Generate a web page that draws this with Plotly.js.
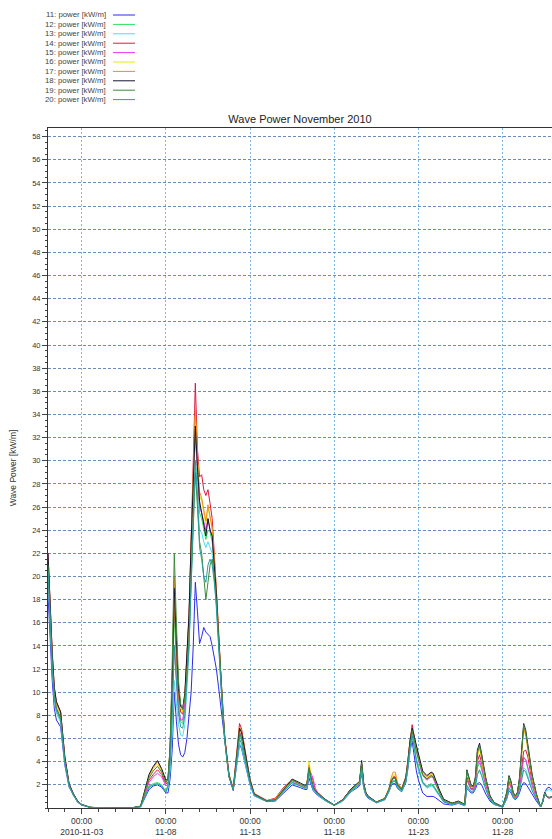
<!DOCTYPE html>
<html>
<head>
<meta charset="utf-8">
<script src="https://cdn.plot.ly/plotly-3.0.1.min.js"></script>
<style>html,body{margin:0;padding:0;background:#fff;}#chart{width:552px;height:839px;}</style>
</head>
<body>
<div id="chart"></div>
<script>
// Time stamps: hours after 2010-11-01 00:00
const hoursFromStart = [
0,3,6,9,12,18,24,30,36,42,48,60,72,96,120,
132,138,144,150,156,162,168,
171,174,177,180,183,186,189,192,195,
198,201,204,207,210,213,216,219,222,225,228,231,234,237,240,243,246,249,252,255,258,264,
270,273,276,279,282,288,294,300,
312,324,336,348,360,366,
369,372,375,378,381,384,396,408,420,432,444,447,450,453,456,468,480,486,
489,492,495,498,504,510,513,516,519,522,525,528,534,540,546,549,552,558,564,576,585,594,
597,600,603,606,609,612,615,618,621,624,630,636,648,654,
657,660,663,666,669,672,675,678,681,684,687,690,696,702,705,708,711,714,720
];

const power11 = [
18.5,14,11,8.6,7.6,7.0,3.7,1.8,1.1,0.5,0.25,0.05,0.02,0.01,0.02,
0.1,0.9,1.6,1.9,2.0,1.8,1.3,
1.3,2.5,5,10,7.5,5.5,4.6,4.4,4.8,
6,8,10,14,19.5,17,14.2,14.8,15.6,15.2,15,14.8,14,13,12,10.5,9,7.5,5.5,4,2.7,1.5,
4.3,5.5,5.1,4.3,3.5,2.0,1.05,0.9,
0.55,0.6,1.3,2.0,1.75,1.6,
1.6,2.6,2.0,1.5,1.3,1.1,0.6,0.22,0.6,1.4,1.9,3.0,1.7,1.1,0.85,0.45,0.7,1.4,
1.9,2.1,2.1,1.7,1.4,2.2,3.4,4.9,5.8,4.4,3.2,2.4,1.3,1.0,1.0,1.0,0.9,0.6,0.35,0.25,0.4,0.2,
1.7,1.5,1.3,1.3,1.6,2.1,2.2,2.0,1.6,1.2,0.6,0.3,0.08,0.8,
1.5,1.3,0.9,0.7,0.9,1.3,1.9,2.2,2.1,1.8,1.5,1.1,0.6,0.1,0.6,1.3,1.7,1.8,1.5
];
const power12 = [
21,16,12.6,9.8,8.6,7.8,4.1,2.0,1.2,0.6,0.3,0.06,0.02,0.01,0.02,
0.12,1.0,1.9,2.1,2.2,2.0,1.4,
2.0,4.2,9,17,12.5,9,7.5,7.3,8.6,
12,15.5,21,27.5,32.5,29,25.5,25,24.2,23.2,24,23.8,23,20.5,18,14.6,11.2,8.3,5.9,4.1,2.8,1.6,
5.0,6.3,5.9,4.9,4.0,2.2,1.1,0.95,
0.6,0.68,1.5,2.25,1.9,1.7,
1.85,3.2,2.3,1.7,1.4,1.2,0.65,0.24,0.65,1.5,2.05,3.5,1.85,1.2,0.95,0.48,0.75,1.5,
2.1,2.4,2.4,1.85,1.5,2.4,3.7,5.4,6.5,5.4,4.3,3.6,2.3,1.9,2.1,2.0,1.7,1.05,0.55,0.32,0.48,0.25,
2.4,2.0,1.6,1.55,2.0,3.5,3.9,3.3,2.5,1.9,0.8,0.38,0.09,1.0,
2.1,1.8,1.1,0.85,1.1,1.9,3.2,4.4,4.1,3.4,2.6,1.9,0.9,0.1,0.5,1.2,0.95,0.85,0.95
];
const power13 = [
20,15.5,12,9.3,8.2,7.4,3.9,1.9,1.1,0.55,0.28,0.05,0.02,0.01,0.02,
0.1,0.95,1.8,2.0,2.1,1.9,1.4,
1.7,3.2,6.5,11,9,7.2,6.3,6.2,7.2,
10.5,13.5,19,25,30,27,24,23.8,23,22.5,23,22.5,22,20,17.5,14.2,11,8.2,5.8,4.1,2.7,1.6,
4.4,5.6,5.2,4.4,3.6,2.0,1.05,0.9,
0.55,0.65,1.4,2.15,1.85,1.65,
1.75,3.0,2.2,1.6,1.35,1.15,0.62,0.23,0.62,1.45,2.0,3.3,1.8,1.15,0.9,0.46,0.72,1.45,
2.0,2.3,2.3,1.8,1.45,2.3,3.6,5.2,6.3,5.1,4.0,3.3,2.1,1.7,1.9,1.8,1.55,0.95,0.5,0.3,0.45,0.24,
2.0,1.7,1.45,1.4,1.8,2.9,3.2,2.8,2.1,1.6,0.7,0.33,0.08,0.9,
1.8,1.5,1.0,0.8,1.0,1.6,2.6,3.5,3.3,2.8,2.2,1.6,0.8,0.1,0.6,1.4,1.5,1.6,1.4
];
const power14 = [
22,17,13.5,10.4,9.1,8.3,4.4,2.1,1.25,0.62,0.31,0.06,0.02,0.01,0.02,
0.15,1.3,2.4,2.9,3.3,2.9,2.1,
2.2,4.6,10,18,13.5,9.8,8.3,8.1,9.4,
12.8,16.5,23,30,36.7,31,28.6,28.8,27.5,27,27.5,26.3,25,22,19.2,15.5,11.8,8.7,6.1,4.3,2.9,1.7,
5.7,7.3,6.8,5.6,4.6,2.5,1.25,1.05,
0.65,0.85,1.8,2.4,2.0,1.8,
2.0,3.4,2.9,2.2,1.6,1.35,0.72,0.26,0.72,1.65,2.2,3.8,2.1,1.35,1.0,0.5,0.82,1.65,
2.3,2.7,2.7,2.1,1.65,2.7,4.2,6.1,7.2,6.2,5.1,4.4,2.9,2.5,2.8,2.7,2.2,1.35,0.68,0.4,0.55,0.3,
2.7,2.2,1.7,1.65,2.2,4.0,4.6,3.9,2.9,2.2,0.9,0.4,0.09,1.1,
2.3,1.9,1.15,0.9,1.15,2.0,3.5,4.9,5.0,4.4,3.3,2.3,1.0,0.1,0.5,1.25,1.0,0.9,1.0
];
const power15 = [
21,16.2,12.8,9.8,8.6,7.8,4.1,2.0,1.15,0.58,0.29,0.06,0.02,0.01,0.02,
0.13,1.2,2.2,2.7,3.0,2.7,1.9,
2.1,4.2,9,14,11,8.5,7.6,7.6,9,
12.5,16,22,28.5,32.5,29,26,25.5,24.7,24,25,24,23.5,21,18.5,15,11.5,8.5,6,4.2,2.8,1.6,
5.2,6.6,6.2,5.1,4.2,2.3,1.15,0.95,
0.6,0.75,1.65,2.35,1.95,1.75,
1.95,3.3,3.0,2.5,1.7,1.35,0.7,0.25,0.7,1.6,2.15,3.7,2.05,1.3,1.0,0.5,0.8,1.6,
2.2,2.6,2.6,2.0,1.6,2.6,4.0,5.8,6.8,5.8,4.8,4.1,2.8,2.4,2.7,2.6,2.1,1.3,0.65,0.38,0.53,0.29,
2.5,2.0,1.6,1.55,2.1,3.7,4.1,3.5,2.6,2.0,0.85,0.38,0.09,1.05,
2.2,1.8,1.1,0.85,1.1,1.9,3.1,4.3,4.2,3.6,2.8,2.0,0.9,0.1,0.5,1.2,0.95,0.85,0.95
];
const power16 = [
21.5,16.5,13,10,8.8,8.0,4.2,2.0,1.2,0.6,0.3,0.06,0.02,0.01,0.02,
0.15,1.45,2.7,3.4,3.8,3.2,2.2,
2.3,4.9,11,19,14.5,10.2,8.6,8.4,9.7,
12.7,16.2,22.5,29,33.8,30,27,26.5,25.5,24.5,26,25,24,21.3,18.7,15.2,11.6,8.6,6,4.2,2.8,1.6,
5.4,6.9,6.4,5.3,4.3,2.4,1.2,1.0,
0.6,0.75,1.7,2.4,2.0,1.8,
2.1,4.0,2.7,1.9,1.5,1.3,0.7,0.25,0.7,1.6,2.2,3.8,2.0,1.3,1.0,0.5,0.82,1.65,
2.4,2.8,2.9,2.1,1.65,2.6,4.0,5.8,6.8,6.0,5.0,4.4,3.0,2.6,2.9,2.8,2.3,1.4,0.7,0.4,0.55,0.3,
3.0,2.4,1.85,1.75,2.4,4.5,5.1,4.3,3.1,2.4,0.95,0.43,0.1,1.25,
2.6,2.1,1.25,0.95,1.25,2.4,4.5,6.8,6.2,5.0,3.8,2.6,1.1,0.1,0.5,1.3,1.0,0.9,1.0
];
const power17 = [
21.8,16.8,13.3,10.2,9.0,8.2,4.3,2.05,1.22,0.61,0.3,0.06,0.02,0.01,0.02,
0.15,1.5,2.8,3.5,4.0,3.3,2.3,
2.4,5,11.5,20,15,10.5,8.8,8.5,9.8,
12.9,16.5,23,29.5,34.5,30.5,27.3,26.8,25.7,24.8,26.2,25.2,24.2,21.5,18.9,15.3,11.7,8.6,6.1,4.3,2.9,1.6,
5.5,7.0,6.5,5.4,4.4,2.4,1.2,1.0,
0.62,0.8,1.75,2.45,2.05,1.85,
2.1,3.7,2.7,1.9,1.55,1.32,0.72,0.26,0.72,1.62,2.22,3.85,2.05,1.32,1.0,0.5,0.85,1.7,
2.6,3.1,3.1,2.2,1.7,2.7,4.1,5.9,6.9,6.1,5.1,4.5,3.1,2.7,3.0,2.9,2.4,1.45,0.72,0.41,0.57,0.31,
3.1,2.5,1.9,1.8,2.5,4.7,5.3,4.4,3.2,2.45,1.0,0.45,0.1,1.3,
2.6,2.1,1.25,0.95,1.25,2.4,4.6,7.0,6.3,5.1,3.9,2.7,1.15,0.1,0.5,1.3,1.0,0.9,1.0
];
const power18 = [
22,17,13.4,10.4,9.2,8.3,4.4,2.1,1.25,0.62,0.3,0.06,0.02,0.01,0.02,
0.16,1.55,2.9,3.6,4.1,3.4,2.4,
2.5,5.2,11,19,14.5,10.3,8.8,8.6,9.9,
13,16.8,23,29,33,29.5,26.5,25.5,24.5,23.5,25,24,23.5,21,18.5,15,11.5,8.5,6,4.2,2.8,1.6,
5.5,6.9,6.5,5.4,4.4,2.4,1.2,1.0,
0.6,0.7,1.6,2.5,2.15,1.95,
2.05,3.4,2.5,1.8,1.5,1.3,0.7,0.25,0.7,1.65,2.3,4.1,2.1,1.35,1.05,0.52,0.8,1.6,
2.3,2.6,2.6,2.0,1.6,2.6,4.0,5.8,6.9,6.2,5.3,4.7,3.2,2.8,3.1,3.0,2.5,1.55,0.75,0.42,0.6,0.32,
3.3,2.6,2.0,1.9,2.6,5.0,5.6,4.7,3.5,2.6,1.05,0.47,0.1,1.4,
2.8,2.3,1.35,1.05,1.35,2.6,5.0,7.3,6.7,5.5,4.1,2.9,1.25,0.1,0.5,1.35,1.0,0.9,1.0
];
const power19 = [
21,16.2,12.7,9.8,8.6,7.8,4.1,2.0,1.18,0.59,0.3,0.06,0.02,0.01,0.02,
0.15,1.4,2.6,3.2,3.6,3.1,2.2,
2.5,5.3,12.5,22,16,11,9,8.5,9.5,
11.5,14.5,19.5,25,29,26,23,22,20,18,19.5,21,21.5,20,17.8,14.6,11.2,8.3,5.9,4.1,2.7,1.6,
5.1,6.5,6.0,5.0,4.1,2.25,1.15,0.95,
0.6,0.7,1.55,2.4,2.05,1.85,
2.0,3.5,2.5,1.75,1.45,1.28,0.68,0.25,0.68,1.6,2.25,3.9,2.0,1.3,1.0,0.5,0.8,1.6,
2.3,2.6,2.6,2.0,1.6,2.5,3.9,5.7,6.7,5.9,4.9,4.3,2.9,2.5,2.8,2.7,2.2,1.35,0.68,0.4,0.55,0.3,
3.2,2.5,1.9,1.8,2.5,4.8,5.4,4.5,3.3,2.5,1.0,0.45,0.1,1.35,
2.7,2.2,1.3,1.0,1.3,2.5,4.8,7.2,6.5,5.3,4.0,2.8,1.2,0.1,0.5,1.3,1.0,0.9,1.0
];
const power20 = [
20.5,15.8,12.3,9.5,8.4,7.6,4.0,1.95,1.15,0.57,0.29,0.05,0.02,0.01,0.02,
0.1,0.95,1.8,2.0,2.1,1.9,1.4,
1.9,3.8,8,14,11,8.2,7,6.9,8,
11,14,20,26,30,27,22.5,21.5,20,19.5,21,21.5,21,19.5,17.5,14.3,11,8.2,5.8,4.1,2.7,1.6,
4.7,6.0,5.5,4.6,3.7,2.1,1.1,0.9,
0.55,0.65,1.45,2.2,1.9,1.7,
1.8,3.1,2.3,1.65,1.4,1.2,0.65,0.24,0.65,1.5,2.05,3.4,1.85,1.2,0.95,0.48,0.75,1.5,
2.0,2.3,2.3,1.8,1.45,2.3,3.6,5.3,6.3,5.2,4.1,3.4,2.2,1.8,2.0,1.9,1.6,1.0,0.52,0.31,0.46,0.24,
1.9,1.65,1.4,1.35,1.75,2.9,3.3,2.8,2.1,1.6,0.7,0.33,0.08,0.9,
1.7,1.45,0.95,0.75,0.95,1.5,2.4,3.3,3.1,2.6,2.0,1.5,0.75,0.1,0.55,1.25,1.0,0.9,1.0
];

const seriesNames = ['11: power [kW/m]','12: power [kW/m]','13: power [kW/m]','14: power [kW/m]','15: power [kW/m]',
                     '16: power [kW/m]','17: power [kW/m]','18: power [kW/m]','19: power [kW/m]','20: power [kW/m]'];
const seriesValues = [power11,power12,power13,power14,power15,power16,power17,power18,power19,power20];
const seriesColors = ['#2a2aee','#2ee05a','#4cdcf0','#e0163c','#f032f0','#e8e800','#f08c1e','#141430','#3c8c3c','#2a9e9e'];

const xTickVals = ['2010-11-03 00:00','2010-11-08 00:00','2010-11-13 00:00','2010-11-18 00:00','2010-11-23 00:00','2010-11-28 00:00'];
const xTickText = ['00:00<br>2010-11-03','00:00<br>11-08','00:00<br>11-13','00:00<br>11-18','00:00<br>11-23','00:00<br>11-28'];
const yTickVals = [2,4,6,8,10,12,14,16,18,20,22,24,26,28,30,32,34,36,38,40,42,44,46,48,50,52,54,56,58];

function pad(n){return (n<10?'0':'')+n;}
const startMs = Date.UTC(2010,10,1,0,0,0);
const xTimes = hoursFromStart.map(h=>{
  const d = new Date(startMs + h*3600000);
  return d.getUTCFullYear()+'-'+pad(d.getUTCMonth()+1)+'-'+pad(d.getUTCDate())+' '+pad(d.getUTCHours())+':'+pad(d.getUTCMinutes());
});

const traces = seriesValues.map((vals,i)=>({
  type:'scatter', mode:'lines', name:seriesNames[i],
  x:xTimes, y:vals,
  line:{color:seriesColors[i], width:1},
  showlegend:false, hoverinfo:'x+y+name'
}));

// custom legend: text then line sample, like the original
const W=552, H=839, mL=48, mR=0, mT=128, mB=31;
const plotW=W-mL-mR, plotH=H-mT-mB;
const legendRow0=15, legendStep=9.4, legendTextRight=108, legendLineX0=113, legendLineX1=135;
const annotations=[], shapes=[];
seriesNames.forEach((nm,i)=>{
  const py = legendRow0 + i*legendStep;
  const yp = (H-mB-py)/plotH;
  annotations.push({xref:'paper',yref:'paper',x:(legendTextRight-mL)/plotW,y:yp,xanchor:'right',yanchor:'middle',
    text:nm,showarrow:false,font:{size:7.8,color:'#444',family:'Liberation Sans, Arial, sans-serif'}});
  shapes.push({type:'line',xref:'paper',yref:'paper',x0:(legendLineX0-mL)/plotW,x1:(legendLineX1-mL)/plotW,y0:yp,y1:yp,
    line:{color:seriesColors[i],width:1}});
});

const layout = {
  width:W, height:H,
  margin:{l:mL,r:mR,t:mT,b:mB,pad:0},
  paper_bgcolor:'#ffffff', plot_bgcolor:'#ffffff',
  font:{family:'Liberation Sans, Arial, sans-serif', color:'#333'},
  title:{text:'Wave Power November 2010', font:{size:11,color:'#222'}, x:0.5, xref:'paper', xanchor:'center',
         y:1-119/839, yref:'container', yanchor:'middle'},
  xaxis:{type:'date', range:['2010-11-01 00:00','2010-11-30 22:20'],
    tickmode:'array', tickvals:xTickVals, ticktext:xTickText,
    ticks:'outside', ticklen:5, tickwidth:1, tickcolor:'#444',
    tickfont:{size:8.5,color:'#333'},
    showgrid:true, gridcolor:'#7fb6e4', griddash:'2px,2px', gridwidth:1,
    showline:true, mirror:true, linecolor:'#333', linewidth:1, zeroline:false,
    minor:{dtick:86400000, tick0:'2010-11-01', ticks:'outside', ticklen:3, tickcolor:'#444', showgrid:false},
    fixedrange:true},
  yaxis:{range:[0,58.75], tickmode:'array', tickvals:yTickVals,
    ticks:'outside', ticklen:5, tickwidth:1, tickcolor:'#444',
    tickfont:{size:7.5,color:'#333'},
    showgrid:true, gridcolor:'#6a8cc0', griddash:'3px,2px', gridwidth:1,
    showline:true, mirror:true, linecolor:'#333', linewidth:1, zeroline:false,
    minor:{dtick:0.5, tick0:0, ticks:'outside', ticklen:2.5, tickcolor:'#444', showgrid:false},
    title:{text:'Wave Power [kW/m]', font:{size:8.5,color:'#333'}, standoff:14},
    automargin:false, fixedrange:true},
  annotations:annotations, shapes:shapes,
  showlegend:false
};

Plotly.newPlot('chart', traces, layout, {displayModeBar:false, staticPlot:true});
</script>
</body>
</html>
